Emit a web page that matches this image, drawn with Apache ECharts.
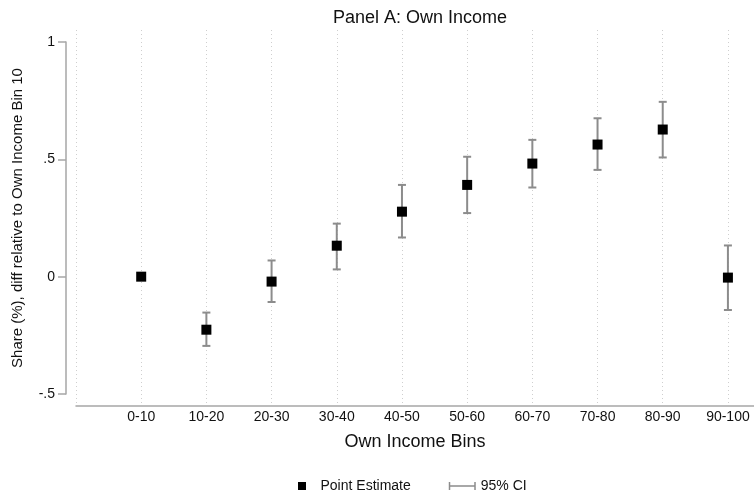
<!DOCTYPE html>
<html>
<head>
<meta charset="utf-8">
<title>Panel A: Own Income</title>
<script src="https://cdn.jsdelivr.net/npm/echarts@6/dist/echarts.min.js"></script>
<style>
  html, body { margin: 0; padding: 0; background: #fff; }
  #chart { width: 754px; height: 492px; }
</style>
</head>
<body>
<div id="chart"></div>
<script>
// Income bins (x positions 1..10)
const categories = ['0-10', '10-20', '20-30', '30-40', '40-50', '50-60', '60-70', '70-80', '80-90', '90-100'];
// Point estimates, relative to the omitted bin
const estimates = [0.000, -0.226, -0.021, 0.132, 0.277, 0.391, 0.482, 0.563, 0.627, -0.004];
// 95% confidence interval bounds (the reference bin has none)
const ciLow  = [null, -0.295, -0.108, 0.031, 0.167, 0.271, 0.380, 0.455, 0.508, -0.142];
const ciHigh = [null, -0.153,  0.069, 0.226, 0.391, 0.511, 0.583, 0.675, 0.745,  0.133];
// Y axis ticks
const yTicks = [-0.5, 0, 0.5, 1];

const FONT = '"Liberation Sans", Arial, Helvetica, sans-serif';
const AXIS_GRAY = '#a6a6a6';
const CI_GRAY = '#8c8c8c';

const pointData = estimates.map((v, i) => [i + 1, v]);
const ciData = [];
categories.forEach((c, i) => {
  if (ciLow[i] !== null && ciHigh[i] !== null) ciData.push([i + 1, ciLow[i], ciHigh[i]]);
});

function yLabel(v) {
  if (v === 0) return '0';
  return String(v).replace('0.', '.');
}

const chart = echarts.init(document.getElementById('chart'), null, { renderer: 'canvas' });

const option = {
  backgroundColor: '#fff',
  animation: false,
  textStyle: { fontFamily: FONT },
  title: {
    text: 'Panel A: Own Income',
    left: 415,
    textAlign: 'center',
    top: 4,
    textStyle: { fontFamily: FONT, fontSize: 18, fontWeight: 'normal', color: '#111' }
  },
  legend: {
    left: 293,
    top: 474,
    itemWidth: 27,
    itemHeight: 8,
    itemGap: 38,
    textStyle: { fontFamily: FONT, fontSize: 14, color: '#111' },
    data: [
      { name: 'Point Estimate', icon: 'path://M0,0h8v8h-8z', itemStyle: { color: '#000' } },
      { name: '95% CI', icon: 'path://M0,0h1.5v8h-1.5z M0,3.25h27v1.5h-27z M25.5,0h1.5v8h-1.5z', itemStyle: { color: CI_GRAY } }
    ]
  },
  grid: [
    { left: 76, right: 0, top: 42, bottom: 98 },
    { left: 76, right: 0, top: 30, bottom: 86 }
  ],
  xAxis: [
    {
      type: 'value',
      gridIndex: 0,
      min: 0,
      max: 10.4,
      interval: 1,
      offset: 12,
      name: 'Own Income Bins',
      nameLocation: 'middle',
      nameGap: 27,
      nameTextStyle: { fontFamily: FONT, fontSize: 18, color: '#111' },
      axisLine: { show: true, onZero: false, lineStyle: { color: AXIS_GRAY, width: 1.5 } },
      axisTick: { show: false },
      splitLine: { show: false },
      axisLabel: {
        margin: 4,
        fontFamily: FONT,
        fontSize: 14,
        color: '#111',
        showMinLabel: false,
        showMaxLabel: false,
        formatter: v => (Number.isInteger(v) && v >= 1 && v <= categories.length) ? categories[v - 1] : ''
      }
    },
    {
      type: 'value',
      gridIndex: 1,
      min: 0,
      max: 10.4,
      interval: 1,
      axisLine: { show: false },
      axisTick: { show: false },
      axisLabel: { show: false },
      splitLine: { show: true, lineStyle: { color: '#cfcfcf', type: [1, 3], width: 1 } }
    }
  ],
  yAxis: [
    {
      type: 'value',
      gridIndex: 0,
      min: yTicks[0],
      max: yTicks[yTicks.length - 1],
      interval: 0.5,
      offset: 10,
      name: 'Share (%), diff relative to Own Income Bin 10',
      nameLocation: 'middle',
      nameGap: 41,
      nameTextStyle: { fontFamily: FONT, fontSize: 15, color: '#111' },
      axisLine: { show: true, onZero: false, lineStyle: { color: AXIS_GRAY, width: 1.5 } },
      axisTick: { show: true, length: 8, lineStyle: { color: AXIS_GRAY, width: 1.5 } },
      splitLine: { show: false },
      axisLabel: { margin: 11, fontFamily: FONT, fontSize: 14, color: '#111', formatter: yLabel }
    },
    {
      type: 'value',
      gridIndex: 1,
      show: false,
      splitLine: { show: false }
    }
  ],
  series: [
    {
      name: '95% CI',
      type: 'custom',
      xAxisIndex: 0,
      yAxisIndex: 0,
      itemStyle: { color: CI_GRAY },
      data: ciData,
      z: 2,
      renderItem: function (params, api) {
        const x = api.value(0);
        const lo = api.coord([x, api.value(1)]);
        const hi = api.coord([x, api.value(2)]);
        const half = 4;
        const style = { stroke: CI_GRAY, lineWidth: 2, fill: null };
        return {
          type: 'group',
          children: [
            { type: 'line', shape: { x1: hi[0], y1: hi[1], x2: lo[0], y2: lo[1] }, style: style },
            { type: 'line', shape: { x1: hi[0] - half, y1: hi[1], x2: hi[0] + half, y2: hi[1] }, style: style },
            { type: 'line', shape: { x1: lo[0] - half, y1: lo[1], x2: lo[0] + half, y2: lo[1] }, style: style }
          ]
        };
      }
    },
    {
      name: 'Point Estimate',
      type: 'scatter',
      xAxisIndex: 0,
      yAxisIndex: 0,
      symbol: 'rect',
      symbolSize: 10,
      itemStyle: { color: '#000', opacity: 1 },
      data: pointData,
      z: 3
    }
  ]
};

chart.setOption(option);
</script>
</body>
</html>
